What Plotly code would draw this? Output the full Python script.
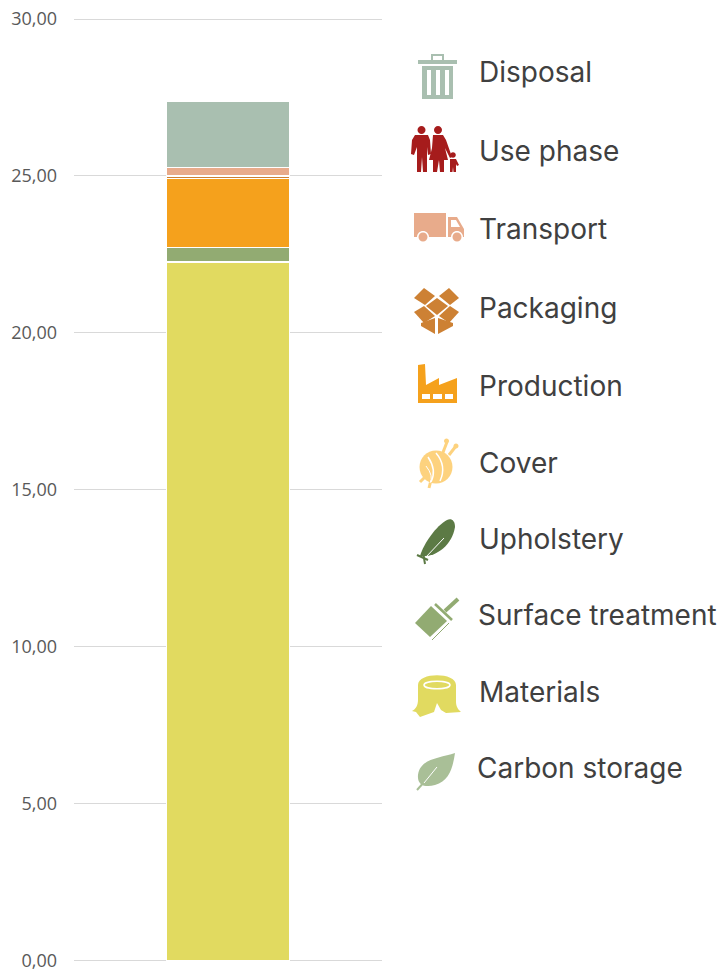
import re
import plotly.graph_objects as go

W, H = 728, 973
AX_L, AX_R = 74, 382
Y_PAD = 0.1                     # axis units kept beyond 0 and 30 so both end gridlines draw
PX_PER_UNIT = (960.5 - 19) / 30
AX_TOP, AX_BOT = 19 - Y_PAD * PX_PER_UNIT, 960.5 + Y_PAD * PX_PER_UNIT

# Data, stacked from the bottom up
stage_names = ["Materials", "Surface treatment", "Upholstery", "Cover", "Production",
               "Packaging", "Transport", "Use phase", "Disposal"]
stage_values = [22.25, 0.47, 0.0, 0.0, 2.20, 0.08, 0.27, 0.0, 2.12]
stage_colors = ["#E1DA60", "#92AB72", "#5C7A45", "#FDD27E", "#F5A11C",
                "#CD8134", "#E8AB8B", "#A61C1C", "#A9BFB0"]

y_tick_values = [0, 5, 10, 15, 20, 25, 30]
y_tick_labels = ["0,00", "5,00", "10,00", "15,00", "20,00", "25,00", "30,00"]

legend_labels = ["Disposal", "Use phase", "Transport", "Packaging", "Production",
                 "Cover", "Upholstery", "Surface treatment", "Materials", "Carbon storage"]
legend_x = [479, 479, 479, 479, 479, 479, 479, 478, 479, 477]
legend_y = [72, 151, 229, 308, 386, 463, 539, 615, 692, 768]

WHITE = "#FFFFFF"


def to_paper(path):
    """Turn a path written in page pixels into paper fractions."""
    out, is_x = [], True
    for tok in re.findall(r"[MLCQZ]|-?\d+\.?\d*", path):
        if tok in "MLCQZ":
            out.append(tok)
            is_x = True
        else:
            v = float(tok)
            out.append(f"{v / W:.5f}" if is_x else f"{1 - v / H:.5f}")
            is_x = not is_x
    return " ".join(out)


def poly(*pts):
    return "M" + " L".join(f"{x},{y}" for x, y in pts) + " Z"


def rect(x0, y0, x1, y1):
    return poly((x0, y0), (x1, y0), (x1, y1), (x0, y1))


def circ(cx, cy, r):
    k = 0.5523 * r
    return (f"M{cx-r},{cy} C{cx-r},{cy-k} {cx-k},{cy-r} {cx},{cy-r} "
            f"C{cx+k},{cy-r} {cx+r},{cy-k} {cx+r},{cy} "
            f"C{cx+r},{cy+k} {cx+k},{cy+r} {cx},{cy+r} "
            f"C{cx-k},{cy+r} {cx-r},{cy+k} {cx-r},{cy} Z")


def fill(path, color):
    return dict(type="path", path=to_paper(path), fillcolor=color, line=dict(width=0),
                xref="paper", yref="paper", layer="above")


def stroke(path, color, width):
    return dict(type="path", path=to_paper(path), fillcolor="rgba(0,0,0,0)",
                line=dict(color=color, width=width), xref="paper", yref="paper", layer="above")


c = "#A9BFB0"
trash = [
    stroke("M432,60 L432,55 L443,55 L443,60", c, 2),
    fill(rect(418, 60, 457, 64), c),
    fill(rect(422, 66, 453, 99), c),
    fill(rect(427, 70, 431, 95), WHITE),
    fill(rect(436, 70, 440, 95), WHITE),
    fill(rect(445, 70, 449, 95), WHITE),
]

c = "#A61C1C"
family = [
    fill(circ(421.5, 130, 4), c),
    fill(poly((415, 135), (428, 135), (430, 140), (431, 154), (428, 155), (427, 147),
              (427, 172), (423, 172), (422, 157), (421, 172), (417, 172), (417, 147),
              (414, 155), (411, 154), (412, 140)), c),
    fill(circ(438, 130, 4), c),
    fill(poly((433, 135), (443, 135), (446, 140), (452, 157), (450, 158), (445, 148),
              (448, 160), (444, 160), (444, 172), (440, 172), (439, 160), (437, 172),
              (433, 172), (433, 160), (429, 160), (432, 148)), c),
    fill(circ(453, 155, 2.8), c),
    fill(poly((450, 159), (456, 159), (459, 165), (457, 166), (456, 164), (456, 172),
              (453.5, 172), (453, 167), (452.5, 172), (450, 172), (450, 164)), c),
]

c = "#E8AB8B"
truck = [
    fill(rect(414, 213, 446, 237), c),
    fill(poly((448, 217), (457, 217), (464, 229), (464, 237), (448, 237)), c),
    fill(poly((451, 220), (456, 220), (460, 227), (451, 227)), WHITE),
    fill(circ(423, 237, 6), WHITE),
    fill(circ(423, 237, 4.5), c),
    fill(circ(457, 237, 6), WHITE),
    fill(circ(457, 237, 4.5), c),
]

c = "#CD8134"
box = [
    fill(poly((414, 298), (424, 288), (435, 296), (425, 305)), c),
    fill(poly((439, 296), (449, 288), (459, 298), (450, 305)), c),
    fill(poly((426, 306), (437, 298), (448, 306), (437, 315)), c),
    fill(poly((414, 312), (424, 306), (435, 316), (424, 323)), c),
    fill(poly((439, 316), (450, 306), (459, 312), (449, 323)), c),
    fill(poly((421, 323), (435, 318), (435, 334), (421, 326)), c),
    fill(poly((438, 318), (453, 323), (453, 326), (438, 334)), c),
]

c = "#F5A11C"
factory = [
    fill(poly((418, 365), (425, 364), (426, 385), (439, 378), (439, 385), (457, 378),
              (457, 403), (418, 403)), c),
    fill(rect(422, 394, 430, 399), WHITE),
    fill(rect(433, 394, 442, 399), WHITE),
    fill(rect(445, 394, 453, 399), WHITE),
]

c = "#FDD27E"
yarn = [
    stroke("M442,455 L447,442", c, 3),
    stroke("M449,455 L456,446", c, 3),
    fill(circ(446.5, 441, 2.5), c),
    fill(circ(456, 446, 2.5), c),
    fill(circ(436, 467, 16.5), c),
    stroke("M420,482 L428,474", c, 3),
    stroke("M429,488 L431,480", c, 3),
    stroke("M428,457 Q437,470 431,482", WHITE, 1.5),
    stroke("M436,453 Q447,466 440,481", WHITE, 1.5),
    stroke("M426,466 Q434,476 430,483", WHITE, 1),
]

c = "#5C7A45"
feather = [
    fill("M447,520 C436,526 424,543 420,556 C435,558 452,546 455,527 "
         "C455,520 451,518 447,520 Z", c),
    stroke("M417,555 L428,560", c, 2),
    stroke("M423,552 L425,564", c, 2),
    stroke("M426,557 L444,538", WHITE, 1),
]

c = "#92AB72"
brush = [
    fill(poly((415, 623), (431, 606), (447, 621), (430, 637)), c),
    stroke("M435,604 L452,620", c, 2.5),
    stroke("M432,640 L449,623", c, 1),
    stroke("M445,611 L458,599", c, 4),
]

c = "#E1DA60"
stump = [
    fill("M418,685 C418,672 456,672 456,685 L456,702 C456,708 460,711 461,712 "
         "L446,713 L441,710 L437,703 L434,712 L420,717 L416,712 L412,711 "
         "C416,709 418,705 418,700 Z", c),
    stroke("M424,685 C424,680 450,680 450,685 C450,690 424,690 424,685 Z", WHITE, 1.5),
]

c = "#A9BF97"
leaf = [
    fill("M455,753 C441,758 420,758 418,775 C417,785 425,788 435,785 "
         "C450,781 453,766 455,753 Z", c),
    stroke("M417,790 L426,780", c, 2),
    stroke("M424,783 L437,767", WHITE, 1),
]

shapes = trash + family + truck + box + factory + yarn + feather + brush + stump + leaf

fig = go.Figure()
for name, value, color in zip(stage_names, stage_values, stage_colors):
    fig.add_trace(go.Bar(x=["Total"], y=[value], name=name, marker_color=color,
                         marker_line=dict(color=WHITE, width=1.5), hoverinfo="name+y"))

annotations = [
    dict(x=x / W, y=1 - y / H, xref="paper", yref="paper", text=t, showarrow=False,
         xanchor="left", yanchor="middle", borderpad=0, xshift=-1,
         font=dict(family="Inter", size=28, color="#404040"))
    for t, x, y in zip(legend_labels, legend_x, legend_y)
]

fig.update_layout(
    width=W, height=H, barmode="stack", bargap=0.6, showlegend=False,
    paper_bgcolor=WHITE, plot_bgcolor=WHITE,
    margin=dict(l=0, r=0, t=0, b=0, autoexpand=False),
    font=dict(family="Open Sans", color="#595959"),
    xaxis=dict(domain=[AX_L / W, AX_R / W], showticklabels=False, showgrid=False,
               zeroline=False, showline=False, ticks=""),
    yaxis=dict(domain=[1 - AX_BOT / H, 1 - AX_TOP / H], range=[-Y_PAD, 30 + Y_PAD],
               tickvals=y_tick_values, ticktext=y_tick_labels, gridcolor="#D9D9D9",
               gridwidth=1.4, zeroline=False, showline=False, ticks="", ticklabelstandoff=16,
               tickfont=dict(size=18, color="#595959")),
    shapes=shapes, annotations=annotations,
)
fig.write_html("out.html", config=dict(displayModeBar=False),
               post_script="document.body.style.margin='0';")
